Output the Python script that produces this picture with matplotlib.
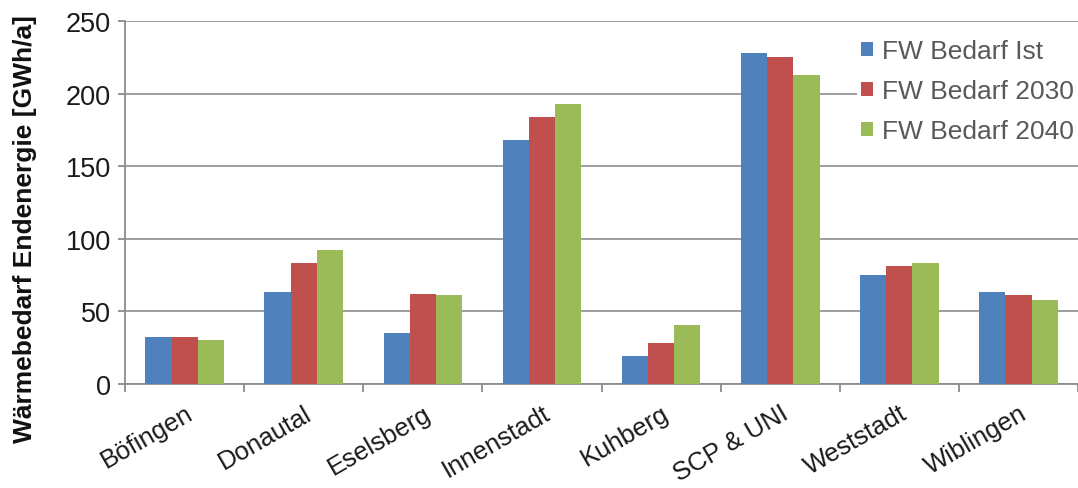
import numpy as np
import matplotlib.pyplot as plt

plt.rcParams['font.family'] = ['Liberation Sans', 'DejaVu Sans']

stadtteile = ['Böfingen', 'Donautal', 'Eselsberg', 'Innenstadt', 'Kuhberg',
              'SCP & UNI', 'Weststadt', 'Wiblingen']
bedarf_ist = [32, 63, 35, 168, 19, 228, 75, 63]
bedarf_2030 = [32, 83, 62, 184, 28, 225, 81, 61]
bedarf_2040 = [30.5, 92.5, 61.5, 192.5, 40.5, 213, 83, 58]

serien = [
    ('FW Bedarf Ist', bedarf_ist, '#4F81BD'),
    ('FW Bedarf 2030', bedarf_2030, '#C0504D'),
    ('FW Bedarf 2040', bedarf_2040, '#9BBB59'),
]

fig = plt.figure(figsize=(10.78, 4.89), dpi=100)
ax = fig.add_axes([0.116, 0.213, 0.884, 0.742])

x = np.arange(len(stadtteile))
breite = 0.22
for i, (name, werte, farbe) in enumerate(serien):
    ax.bar(x + (i - 1) * breite, werte, breite, color=farbe, label=name, zorder=3)

ax.set_xlim(-0.5, len(stadtteile) - 0.5)
ax.set_ylim(0, 250)
ax.set_yticks(np.arange(0, 251, 50))
ax.yaxis.grid(True, color='#8c8c8c', linewidth=1.2, zorder=0)
ax.set_axisbelow(True)

grau = '#8c8c8c'
for s in ['top', 'right']:
    ax.spines[s].set_visible(False)
for s in ['left', 'bottom']:
    ax.spines[s].set_color(grau)
    ax.spines[s].set_linewidth(1.3)

# Kategorie-Trennstriche unten als Minor-Ticks
ax.set_xticks(x)
ax.set_xticks(np.arange(-0.5, len(stadtteile), 1.0), minor=True)
ax.tick_params(axis='x', which='major', length=0, pad=12)
ax.tick_params(axis='x', which='minor', length=6, width=1.3, color=grau, direction='out')
ax.tick_params(axis='y', length=5, width=1.3, color=grau, labelsize=19.5, labelcolor='#1a1a1a', pad=5)

ax.set_xticklabels(stadtteile, rotation=30, ha='right', va='top',
                   rotation_mode='anchor', fontsize=18.5, color='#1a1a1a')

ax.set_ylabel('Wärmebedarf Endenergie [GWh/a]', fontsize=19, fontweight='bold',
              color='#111111')
ax.yaxis.set_label_coords(-0.092, 0.43)

leg = ax.legend(loc='upper right', bbox_to_anchor=(1.0, 0.96), frameon=True,
                fontsize=19, handlelength=0.45, handleheight=0.45, handletextpad=0.35,
                labelspacing=0.6, borderpad=0.15, borderaxespad=0.0)
leg.get_frame().set_facecolor('white')
leg.get_frame().set_edgecolor('none')
leg.get_frame().set_alpha(1.0)
for t in leg.get_texts():
    t.set_color('#595959')

fig.savefig('out.png', dpi=100)
